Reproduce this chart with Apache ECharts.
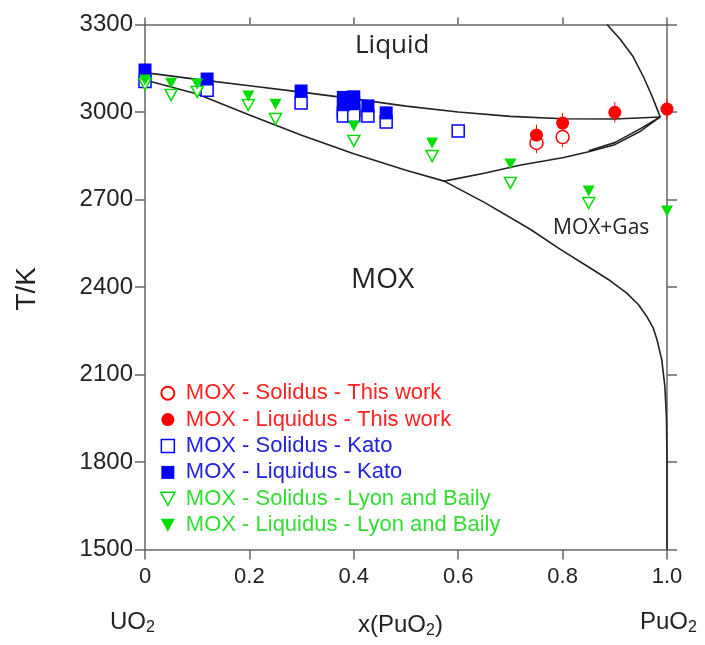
<!DOCTYPE html>
<html>
<head>
<meta charset="utf-8">
<script src="https://cdn.jsdelivr.net/npm/echarts@6/dist/echarts.min.js"></script>
<style>html,body{margin:0;padding:0;background:#fff}#c{width:705px;height:645px}</style>
</head>
<body>
<div id="c"></div>
<script>
// ---- data (x = mole fraction PuO2, T in K) ----
var xTicks = [0, 0.2, 0.4, 0.6, 0.8, 1.0];
var yTicks = [1500, 1800, 2100, 2400, 2700, 3000, 3300];

var solidusThisWork = [[0.75, 2894], [0.80, 2914]];
var liquidusThisWork = [[0.75, 2921], [0.80, 2962], [0.90, 2999], [1.0, 3010]];
var solidusKato = [[0.0, 3105], [0.119, 3075], [0.299, 3031], [0.38, 3000], [0.40, 3005], [0.38, 2986], [0.40, 2988], [0.427, 2986], [0.462, 2966], [0.60, 2935]];
var liquidusKato = [[0.0, 3144], [0.119, 3113], [0.299, 3072], [0.38, 3050], [0.40, 3052], [0.38, 3025], [0.40, 3030], [0.427, 3021], [0.462, 2997]];
var solidusLyon = [[0.0, 3095], [0.05, 3058], [0.10, 3069], [0.198, 3024], [0.25, 2976], [0.40, 2901], [0.55, 2849], [0.70, 2757], [0.85, 2688]];
var liquidusLyon = [[0.0, 3110], [0.05, 3099], [0.10, 3096], [0.198, 3055], [0.25, 3027], [0.40, 2952], [0.55, 2894], [0.70, 2822], [0.85, 2729], [1.0, 2661]];
var errThisWork = 35;

// phase boundaries
var liquidusLine = [[0, 3135], [0.1, 3112], [0.2, 3090], [0.3, 3068], [0.4, 3045], [0.5, 3020], [0.6, 3000], [0.7, 2985], [0.8, 2977], [0.9, 2976], [0.987, 2983]];
var solidusLine = [[0, 3110], [0.1, 3062], [0.2, 2990], [0.3, 2920], [0.4, 2857], [0.5, 2800], [0.573, 2763]];
var upperBranch = [[0.573, 2763], [0.65, 2790], [0.72, 2818], [0.8, 2843], [0.85, 2864], [0.9, 2888], [0.95, 2935], [0.987, 2983]];
var upperBranch2 = [[0.85, 2867], [0.9, 2895], [0.95, 2944], [0.987, 2983]];
var gasBoundary = [[0.573, 2763], [0.65, 2690], [0.738, 2598], [0.795, 2530], [0.852, 2466], [0.89, 2423], [0.923, 2379], [0.945, 2340], [0.962, 2297], [0.974, 2258], [0.981, 2218], [0.99, 2150], [0.996, 2057], [0.999, 1950], [1.0, 1800], [1.0, 1500]];
var topCurve = [[0.885, 3300], [0.91, 3250], [0.935, 3190], [0.955, 3120], [0.97, 3060], [0.98, 3015], [0.987, 2983]];

var RED = '#ff0000', BLUE = '#0000ff', GREEN = '#00dd00';
var names = ['MOX - Solidus - This work', 'MOX - Liquidus - This work', 'MOX - Solidus - Kato', 'MOX - Liquidus - Kato', 'MOX - Solidus - Lyon and Baily', 'MOX - Liquidus - Lyon and Baily'];

var errData = solidusThisWork.concat(liquidusThisWork).map(function (p) { return [p[0], p[1] - errThisWork, p[1] + errThisWork]; });

function curve(d) {
  return { type: 'line', data: d, showSymbol: false, symbol: 'none', silent: true, z: 1,
    lineStyle: { color: '#222', width: 1.6 }, animation: false };
}
var axisLineStyle = { color: '#666', width: 1.5 };
var font = 'Liberation Sans, Arial, sans-serif';
var SQ = 'path://M0,0L10,0L10,10L0,10Z';
var TRI = 'path://M0,0L12,0L6,11Z';

var chart = echarts.init(document.getElementById('c'));
chart.setOption({
  animation: false,
  grid: { left: 145, right: 38, top: 24.5, bottom: 95.5, containLabel: false },
  xAxis: [
    { type: 'value', min: 0, max: 1, interval: 0.2, position: 'bottom',
      axisLine: { onZero: false, lineStyle: axisLineStyle },
      axisTick: { inside: false, length: 10, lineStyle: axisLineStyle },
      splitLine: { show: false },
      axisLabel: { fontSize: 22, fontFamily: font, color: '#222', margin: 16,
        formatter: function (v) { return v === 0 ? '0' : v.toFixed(1); } } },
    { type: 'value', min: 0, max: 1, interval: 0.2, position: 'top',
      axisLine: { onZero: false, lineStyle: axisLineStyle },
      axisTick: { inside: false, length: 7, lineStyle: axisLineStyle },
      splitLine: { show: false }, axisLabel: { show: false } }
  ],
  yAxis: [
    { type: 'value', min: 1500, max: 3300, interval: 300, position: 'left',
      axisLine: { show: true, onZero: false, lineStyle: axisLineStyle },
      axisTick: { show: true, inside: false, length: 10, lineStyle: axisLineStyle },
      splitLine: { show: false },
      axisLabel: { fontSize: 24, fontFamily: font, color: '#222', margin: 12,
        formatter: function (v) { return String(v); } } },
    { type: 'value', min: 1500, max: 3300, interval: 300, position: 'right',
      axisLine: { show: true, onZero: false, lineStyle: axisLineStyle },
      axisTick: { show: true, inside: false, length: 10, lineStyle: axisLineStyle },
      splitLine: { show: false }, axisLabel: { show: false } }
  ],
  legend: {
    orient: 'vertical', left: 155, top: 375, itemWidth: 26, itemHeight: 13, itemGap: 0,
    textStyle: { fontSize: 22, fontFamily: font, lineHeight: 26.4 },
    data: [
      { name: names[0], icon: 'circle', textStyle: { color: '#ff2222' } },
      { name: names[1], icon: 'circle', textStyle: { color: '#ff2222' } },
      { name: names[2], icon: SQ, itemStyle: { color: '#fff', borderColor: BLUE, borderWidth: 1.5 }, textStyle: { color: '#2222dd' } },
      { name: names[3], icon: SQ, itemStyle: { color: BLUE }, textStyle: { color: '#2222dd' } },
      { name: names[4], icon: TRI, itemStyle: { color: '#fff', borderColor: GREEN, borderWidth: 1.5 }, textStyle: { color: '#33dd33' } },
      { name: names[5], icon: TRI, itemStyle: { color: GREEN }, textStyle: { color: '#33dd33' } }
    ],
    selectedMode: false
  },
  graphic: [
    { type: 'text', left: 355, top: 33, style: { text: 'Liquid', fontSize: 26, fontFamily: 'Open Sans', fill: '#222' } },
    { type: 'text', left: 351, top: 266, style: { text: 'MOX', fontSize: 28, fontFamily: 'Open Sans', fill: '#222' } },
    { type: 'text', left: 553, top: 218, style: { text: 'MOX+Gas', fontSize: 21, fontFamily: 'Open Sans', fill: '#222' } },
    { type: 'text', left: 13, top: 267, rotation: Math.PI / 2, style: { text: 'T/K', fontSize: 28, fontFamily: font, fill: '#222' } },
    { type: 'text', left: 110, top: 610, style: { text: '{n|UO}{s|2}', rich: { n: { fontSize: 24, fontFamily: font, fill: '#222' }, s: { fontSize: 16, fontFamily: font, fill: '#222', padding: [12, 0, 0, 0] } } } },
    { type: 'text', left: 358, top: 613, style: { text: '{n|x(PuO}{s|2}{n|)}', rich: { n: { fontSize: 24, fontFamily: font, fill: '#222' }, s: { fontSize: 16, fontFamily: font, fill: '#222', padding: [12, 0, 0, 0] } } } },
    { type: 'text', left: 640, top: 610, style: { text: '{n|PuO}{s|2}', rich: { n: { fontSize: 24, fontFamily: font, fill: '#222' }, s: { fontSize: 16, fontFamily: font, fill: '#222', padding: [12, 0, 0, 0] } } } }
  ],
  series: [
    curve(liquidusLine), curve(solidusLine), curve(upperBranch), curve(upperBranch2), curve(gasBoundary), curve(topCurve),
    { type: 'custom', data: errData, z: 2, silent: true, encode: { x: 0, y: [1, 2] },
      renderItem: function (params, api) {
        var a = api.coord([api.value(0), api.value(1)]);
        var b = api.coord([api.value(0), api.value(2)]);
        return { type: 'line', shape: { x1: a[0], y1: a[1], x2: b[0], y2: b[1] }, style: { stroke: RED, lineWidth: 1 } };
      } },
    { name: names[0], type: 'scatter', data: solidusThisWork, symbol: 'circle', symbolSize: 13, z: 3,
      itemStyle: { color: '#fff', borderColor: RED, borderWidth: 1.5, opacity: 1 } },
    { name: names[1], type: 'scatter', data: liquidusThisWork, symbol: 'circle', symbolSize: 13, z: 4,
      itemStyle: { color: RED, opacity: 1 } },
    { name: names[2], type: 'scatter', data: solidusKato, symbol: 'rect', symbolSize: 12, z: 3,
      itemStyle: { color: '#fff', borderColor: BLUE, borderWidth: 1.5, opacity: 1 } },
    { name: names[3], type: 'scatter', data: liquidusKato, symbol: 'rect', symbolSize: 13, z: 4,
      itemStyle: { color: BLUE, opacity: 1 } },
    { name: names[4], type: 'scatter', data: solidusLyon, symbol: 'triangle', symbolRotate: 180, symbolSize: [12, 11], z: 3,
      itemStyle: { color: '#fff', borderColor: GREEN, borderWidth: 1.5, opacity: 1 } },
    { name: names[5], type: 'scatter', data: liquidusLyon, symbol: 'triangle', symbolRotate: 180, symbolSize: [12, 11], z: 4,
      itemStyle: { color: GREEN, opacity: 1 } }
  ]
});
</script>
</body>
</html>
